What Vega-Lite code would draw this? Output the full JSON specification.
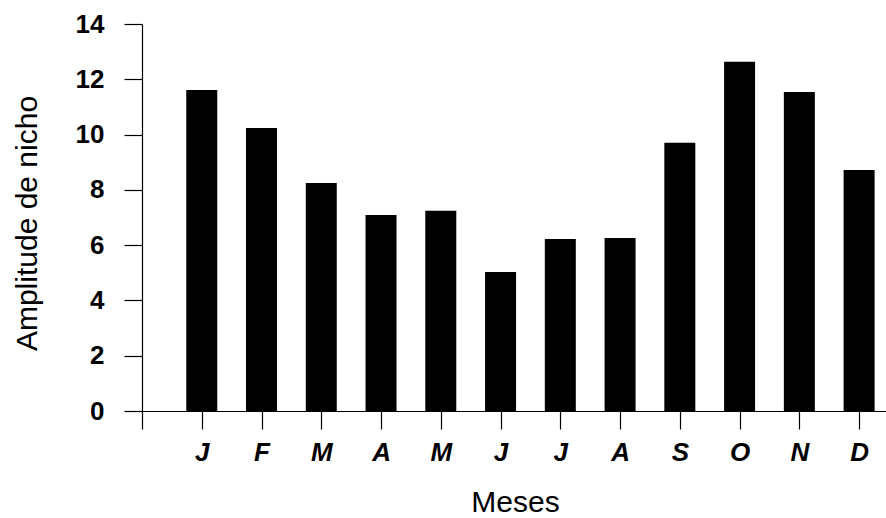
{
  "$schema": "https://vega.github.io/schema/vega-lite/v6.json",
  "width": 744,
  "height": 387,
  "autosize": {"type": "none"},
  "padding": {"left": 142, "top": 24, "right": 0, "bottom": 107},
  "background": "white",
  "config": {
    "view": {"stroke": null},
    "font": "Liberation Sans",
    "axis": {
      "grid": false,
      "domainColor": "black",
      "tickColor": "black",
      "domainWidth": 1.2,
      "tickWidth": 1.2,
      "labelColor": "black",
      "titleColor": "black",
      "labelFont": "Liberation Sans",
      "titleFont": "Liberation Sans"
    }
  },
  "data": {
    "values": [
      {"pos": 1, "mes": "J", "amplitude": 11.61},
      {"pos": 2, "mes": "F", "amplitude": 10.24},
      {"pos": 3, "mes": "M", "amplitude": 8.25},
      {"pos": 4, "mes": "A", "amplitude": 7.09},
      {"pos": 5, "mes": "M", "amplitude": 7.24},
      {"pos": 6, "mes": "J", "amplitude": 5.03},
      {"pos": 7, "mes": "J", "amplitude": 6.22},
      {"pos": 8, "mes": "A", "amplitude": 6.26},
      {"pos": 9, "mes": "S", "amplitude": 9.70},
      {"pos": 10, "mes": "O", "amplitude": 12.63},
      {"pos": 11, "mes": "N", "amplitude": 11.54},
      {"pos": 12, "mes": "D", "amplitude": 8.72}
    ]
  },
  "mark": {"type": "bar", "color": "black", "width": 31},
  "encoding": {
    "x": {
      "field": "pos",
      "type": "quantitative",
      "scale": {"domain": [0, 12.45], "nice": false, "zero": true, "padding": 0},
      "axis": {
        "values": [0, 1, 2, 3, 4, 5, 6, 7, 8, 9, 10, 11, 12],
        "labelExpr": "['', 'J', 'F', 'M', 'A', 'M', 'J', 'J', 'A', 'S', 'O', 'N', 'D'][datum.value]",
        "tickSize": 18,
        "labelPadding": 10,
        "labelFontSize": 26,
        "labelFontWeight": "bold",
        "labelFontStyle": "italic",
        "labelFlush": false,
        "title": "Meses",
        "titleFontSize": 30,
        "titleFontWeight": "normal",
        "titleX": 373,
        "titleY": 106,
        "titleAlign": "center",
        "titleBaseline": "bottom"
      }
    },
    "y": {
      "field": "amplitude",
      "type": "quantitative",
      "scale": {"domain": [0, 14], "nice": false},
      "axis": {
        "values": [0, 2, 4, 6, 8, 10, 12, 14],
        "tickSize": 18,
        "labelPadding": 20,
        "labelFontSize": 26,
        "labelFontWeight": "bold",
        "labelFlush": false,
        "title": "Amplitude de nicho",
        "titleFontSize": 30,
        "titleFontWeight": "normal",
        "titleX": -106,
        "titleY": 199,
        "titleAngle": -90,
        "titleAlign": "center",
        "titleBaseline": "alphabetic"
      }
    }
  }
}
